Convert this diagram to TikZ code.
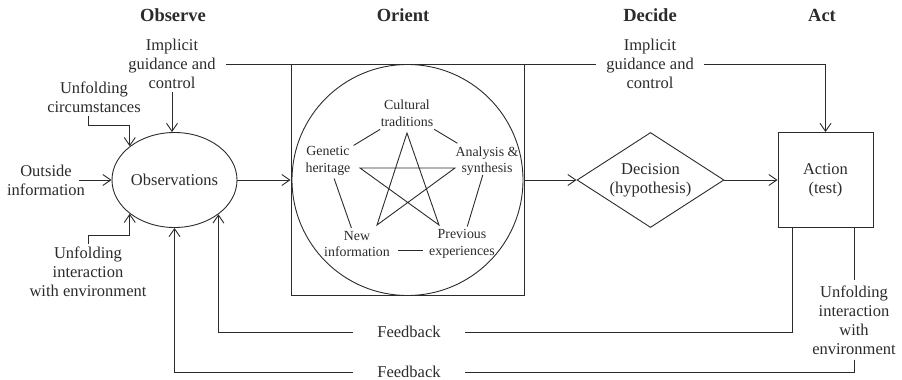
\documentclass[tikz,border=0pt]{standalone}
\usepackage{fontspec}
\setmainfont{Liberation Serif}
\usetikzlibrary{shapes.geometric,arrows.meta,calc}
\definecolor{ink}{HTML}{2B2B2B}
\begin{document}
\begin{tikzpicture}[x=1pt,y=-1pt,
  every node/.style={text=ink},
  txt/.style={align=center,font=\fontsize{16.5}{19}\selectfont,inner sep=3pt},
  small/.style={align=center,font=\fontsize{13.9}{16.5}\selectfont,inner sep=3pt},
  head/.style={font=\fontsize{18.5}{20}\selectfont\bfseries},
  fblabel/.style={font=\fontsize{16.5}{19}\selectfont,fill=white,inner xsep=24pt,inner ysep=1pt},
  conn/.style={draw=ink,line width=0.9pt},
  arr/.style={conn,-{Straight Barb[length=8pt,width=11pt,line width=0.9pt]}},
  shp/.style={draw=ink,line width=0.9pt,inner sep=0pt}]
\useasboundingbox (0,0) rectangle (902,380);

% phase headings
\node[head] (hobs) at (173,15) {Observe};
\node[head] (hori) at (403,15) {Orient};
\node[head] (hdec) at (650,15) {Decide};
\node[head] (hact) at (822,15) {Act};

% main blocks
\node[shp,ellipse,minimum width=125,minimum height=95,txt,inner sep=0pt] (obs) at (174.5,180) {Observations};
\node[shp,rectangle,minimum width=233,minimum height=231] (orbox) at (407.5,180) {};
\node[shp,circle,minimum size=231] (orcirc) at (407.5,180) {};
\node[shp,diamond,minimum width=147,minimum height=95,aspect=1.55,txt,inner sep=0pt] (dec) at (650.5,180) {Decision\\(hypothesis)};
\node[shp,rectangle,minimum width=95,minimum height=95,txt,inner sep=0pt] (act) at (825.5,180) {Action\\(test)};

% inputs to observation
\node[txt,inner xsep=10pt] (igl) at (172,64) {Implicit\\guidance and\\control};
\node[txt,inner xsep=10pt] (igr) at (650,64) {Implicit\\guidance and\\control};
\node[txt] (uc) at (94,97) {Unfolding\\circumstances};
\node[txt] (oi) at (46,180) {Outside\\information};
\node[txt] (uil) at (88,272) {Unfolding\\interaction\\with environment};
\node[txt,inner sep=5pt] (uir) at (854,320) {Unfolding\\interaction\\with\\environment};

% orientation factors
\node[small] (cult) at (407,113) {Cultural\\traditions};
\node[small] (gen) at (328,161) {Genetic\\heritage};
\node[small] (ana) at (487,161) {Analysis \&\\synthesis};
\node[small] (newi) at (357,244) {New\\information};
\node[small] (prev) at (462,244) {Previous\\experiences};

\draw[conn] (cult) -- (gen);
\draw[conn] (cult) -- (ana);
\draw[conn,shorten <=-4pt] (ana) -- (prev);
\draw[conn,shorten <=5pt,shorten >=3pt] ([yshift=-6pt]newi.east) -- ([yshift=-6pt]prev.west);
\draw[conn] (newi) -- (gen);

% pentagram
\coordinate (st1) at (407,133);
\coordinate (st2) at (360,168);
\coordinate (st3) at (455,168);
\coordinate (st4) at (377,225);
\coordinate (st5) at (439,225);
\draw[conn,line join=miter] (st1) -- (st4) -- (st3) -- (st2) -- (st5) -- cycle;

% main flow
\draw[arr] (obs) -- (orbox);
\draw[arr] (orbox) -- (dec);
\draw[arr] (dec) -- (act);

% implicit guidance and control
\draw[conn] (igl) -- (igr);
\draw[arr] (igr) -| (act);
\draw[arr] (igl) -- (igl |- obs.north);

% other inputs
\draw[arr] ([xshift=-6pt]uc.south) -- ++(0,10) -| (obs.143);
\draw[arr] ([xshift=-9pt]oi.east) -- (obs.west);
\draw[arr] (uil.north) -- ++(0,-8) -| (obs.217);

% feedback loops
\node[fblabel] (fb1) at (409,332) {Feedback};
\node[fblabel] (fb2) at (409,372) {Feedback};
\draw[conn] ([xshift=-33.5pt]act.south) |- (fb1);
\draw[arr] (fb1) -| (obs.322);
\draw[conn] (act.south -| uir) -- (uir);
\draw[conn] (uir) |- (fb2);
\draw[arr] (fb2) -| (obs.south);
\end{tikzpicture}
\end{document}
